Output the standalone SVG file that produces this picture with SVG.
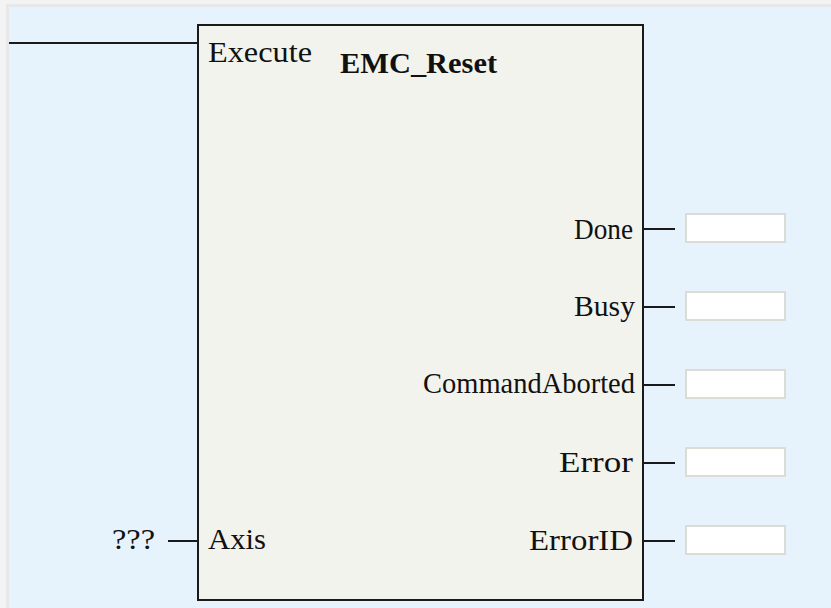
<svg xmlns="http://www.w3.org/2000/svg" width="831" height="608" viewBox="0 0 831 608">
<style>
.t{font-family:"Liberation Serif","DejaVu Serif",serif;font-size:29px;fill:#111;}
.b{font-weight:bold;font-size:30px;}
.w{stroke:#1a1a1a;stroke-width:2;fill:none;}
.o{fill:#ffffff;stroke:#dcdcd6;stroke-width:2;}
</style>
<rect x="0" y="0" width="831" height="608" fill="#f3f3f3"/>
<rect x="6" y="4" width="825" height="604" fill="#e8e8e8"/>
<rect x="9" y="7" width="822" height="601" fill="#e6f3fd"/>
<g id="connectors">
<line class="w" x1="9" y1="43" x2="198" y2="43"/>
<line class="w" x1="168" y1="541" x2="198" y2="541"/>
<line class="w" x1="643" y1="229" x2="675" y2="229"/>
<line class="w" x1="643" y1="307" x2="675" y2="307"/>
<line class="w" x1="643" y1="385" x2="675" y2="385"/>
<line class="w" x1="643" y1="463" x2="675" y2="463"/>
<line class="w" x1="643" y1="541" x2="675" y2="541"/>
</g>
<g id="block">
<rect x="198" y="25" width="445" height="575" fill="#f3f3ee" stroke="#1a1a1a" stroke-width="2"/>
<text class="t b" x="340" y="73" textLength="157" lengthAdjust="spacingAndGlyphs">EMC_Reset</text>
<text class="t" x="208" y="62" textLength="104" lengthAdjust="spacingAndGlyphs">Execute</text>
<text class="t" x="208" y="549" textLength="58" lengthAdjust="spacingAndGlyphs">Axis</text>
<text class="t" x="574" y="239" textLength="59" lengthAdjust="spacingAndGlyphs">Done</text>
<text class="t" x="574" y="316" textLength="61" lengthAdjust="spacingAndGlyphs">Busy</text>
<text class="t" x="423" y="393" textLength="212" lengthAdjust="spacingAndGlyphs">CommandAborted</text>
<text class="t" x="559" y="472" textLength="74" lengthAdjust="spacingAndGlyphs">Error</text>
<text class="t" x="529" y="550" textLength="104" lengthAdjust="spacingAndGlyphs">ErrorID</text>
</g>
<g id="axis-input">
<text class="t" x="112" y="549" textLength="43" lengthAdjust="spacingAndGlyphs">???</text>
</g>
<g id="out-done"><rect class="o" x="686" y="214" width="99" height="28"/></g>
<g id="out-busy"><rect class="o" x="686" y="292" width="99" height="28"/></g>
<g id="out-aborted"><rect class="o" x="686" y="370" width="99" height="28"/></g>
<g id="out-error"><rect class="o" x="686" y="448" width="99" height="28"/></g>
<g id="out-errorid"><rect class="o" x="686" y="526" width="99" height="28"/></g>
</svg>
